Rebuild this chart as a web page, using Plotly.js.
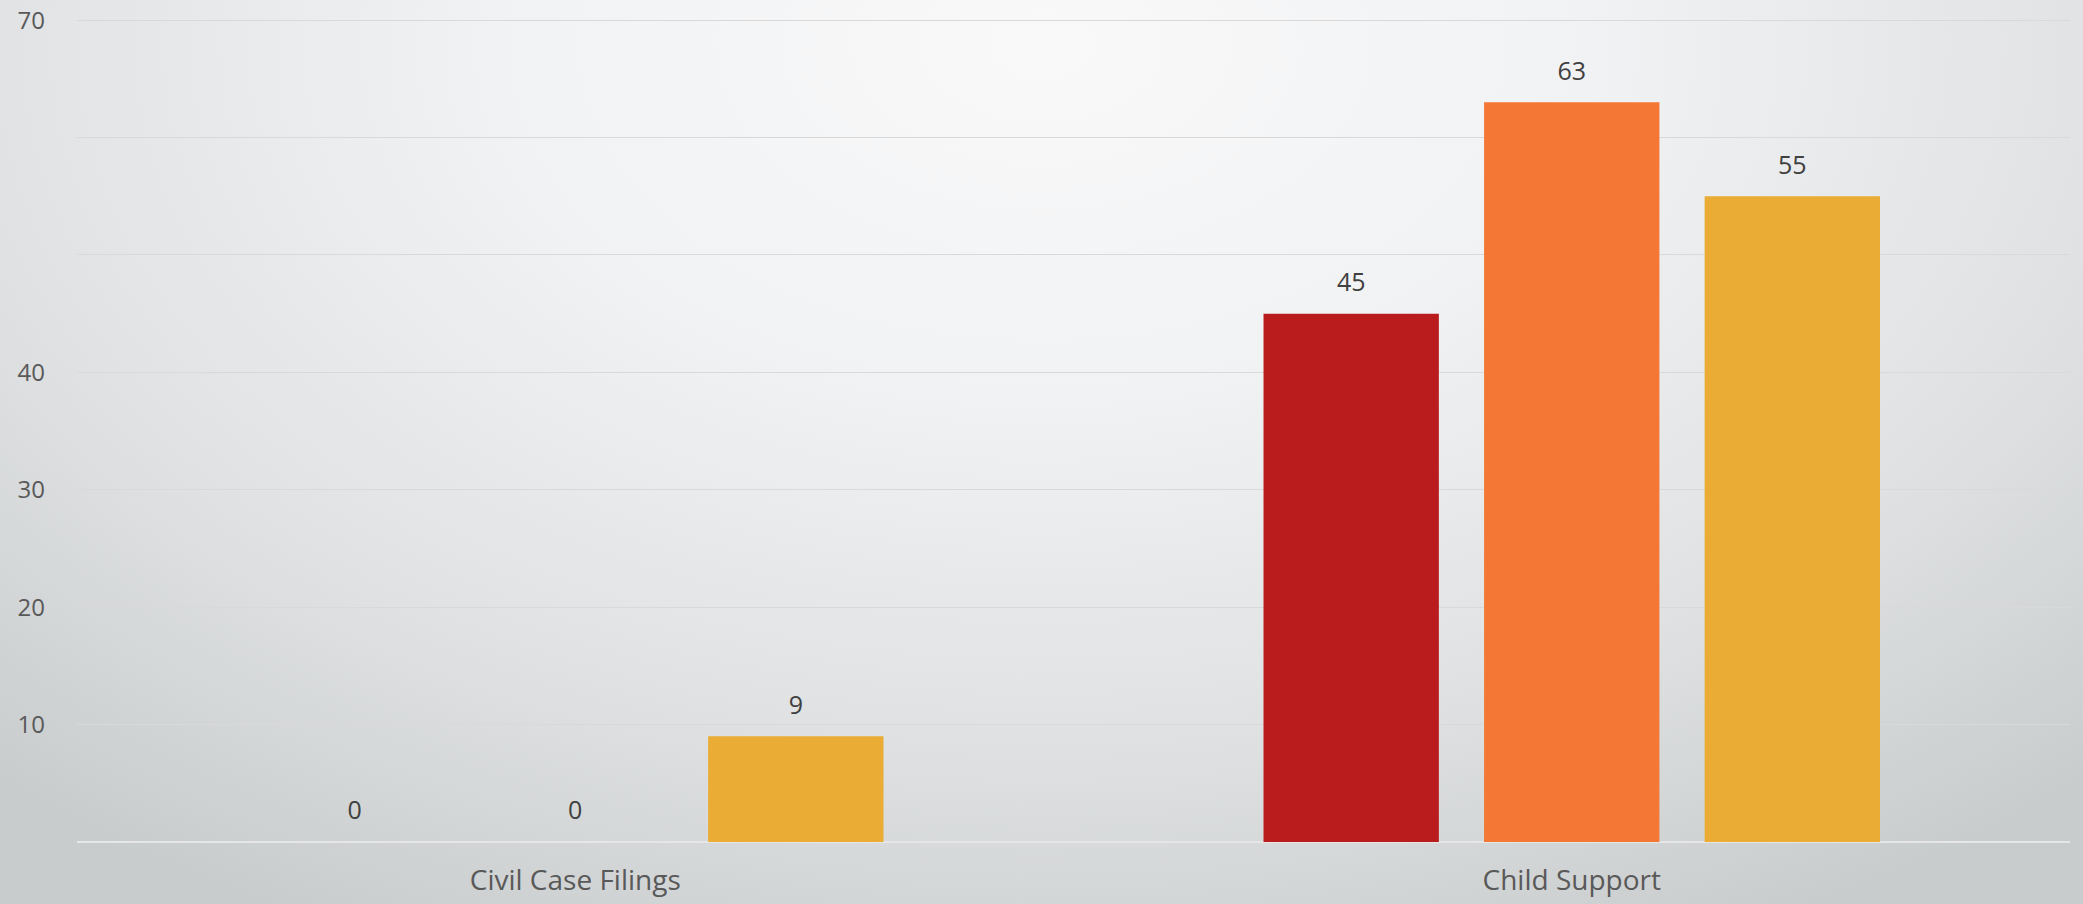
<!DOCTYPE html>
<html>
<head>
<meta charset="utf-8">
<script src="https://cdn.plot.ly/plotly-3.0.1.min.js"></script>
<style>
  html, body { margin: 0; padding: 0; width: 2083px; height: 904px; overflow: hidden; }
  body {
    background: radial-gradient(ellipse 75% 110% at 50% 5%, #f9f9fa 0%, #f1f2f3 35%, #dfe1e2 70%, #c9cccd 100%);
  }
  #chart { width: 2083px; height: 904px; }
</style>
</head>
<body>
<div id="chart"></div>
<script>
const categories = ["Civil Case Filings", "Child Support"];
const seriesNames = ["Series 1", "Series 2", "Series 3"];
const series1 = [0, 45];
const series2 = [0, 63];
const series3 = [9, 55];
const seriesColors = ["#BA1C1E", "#F47735", "#EAAC35"];
const yTickVals = [0, 10, 20, 30, 40, 50, 60, 70];
const yTickText = ["", "10", "20", "30", "40", "", "", "70"];

const values = [series1, series2, series3];
// value label, plus an invisible small second line that lifts the label off the bar
const labelOf = v => "<span style='font-size:25px'>" + v + "</span><br><span style='color:rgba(0,0,0,0)'>.</span>";

const traces = values.map((v, i) => ({
  type: "bar",
  name: seriesNames[i],
  x: categories,
  y: v,
  marker: { color: seriesColors[i] },
  text: v.map(labelOf),
  textposition: "outside",
  cliponaxis: false,
  constraintext: "none",
  textfont: { family: "Open Sans, sans-serif", size: 12, color: "#404040" },
  hoverinfo: "x+y"
}));

const layout = {
  width: 2083,
  height: 904,
  paper_bgcolor: "rgba(0,0,0,0)",
  plot_bgcolor: "rgba(0,0,0,0)",
  margin: { l: 77, r: 13, t: 19, b: 62 },
  showlegend: false,
  barmode: "group",
  bargap: 0.336,
  bargroupgap: 0.205,
  font: { family: "Open Sans, sans-serif", color: "#595959" },
  xaxis: {
    type: "category",
    showgrid: false,
    showline: false,
    ticks: "",
    tickfont: { size: 28, color: "#595959" },
    ticklabelstandoff: 19
  },
  yaxis: {
    range: [0, 70.1],
    tickvals: yTickVals,
    ticktext: yTickText,
    showgrid: true,
    gridcolor: "#d9d9d9",
    gridwidth: 1,
    zeroline: true,
    zerolinecolor: "#e6e6e6",
    zerolinewidth: 2,
    showline: false,
    ticks: "",
    tickfont: { size: 24, color: "#595959" },
    ticklabelstandoff: 31
  }
};

Plotly.newPlot("chart", traces, layout, { displayModeBar: false, staticPlot: true });
</script>
</body>
</html>
